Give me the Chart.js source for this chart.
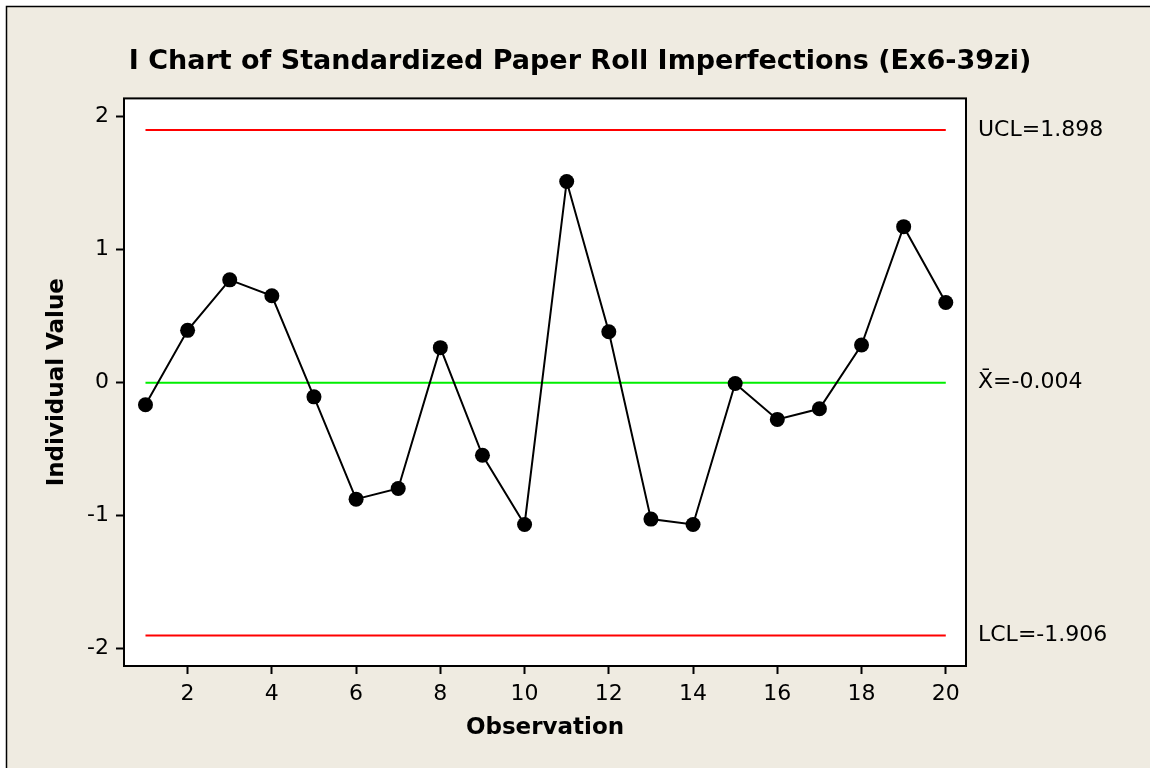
<!DOCTYPE html>
<html>
<head>
<meta charset="utf-8">
<title>I Chart of Standardized Paper Roll Imperfections</title>
<script src="https://cdn.jsdelivr.net/npm/chart.js@4/dist/chart.umd.min.js"></script>
<style>
  html, body { margin: 0; padding: 0; background: #ffffff; }
  canvas { display: block; }
</style>
</head>
<body>
<canvas id="ichart" width="1150" height="768"></canvas>
<script>
// Observation numbers and the standardized individual values
const observations = [1, 2, 3, 4, 5, 6, 7, 8, 9, 10, 11, 12, 13, 14, 15, 16, 17, 18, 19, 20];
const individualValues = [-0.17, 0.39, 0.77, 0.65, -0.11, -0.88, -0.80, 0.26, -0.55, -1.07,
                          1.51, 0.38, -1.03, -1.07, -0.01, -0.28, -0.20, 0.28, 1.17, 0.60];

// Control limits and centre line
const ucl = 1.898;
const centerLine = -0.004;
const lcl = -1.906;

// Axis tick labels
const xTicks = [2, 4, 6, 8, 10, 12, 14, 16, 18, 20];
const yTicks = [-2, -1, 0, 1, 2];

const limitLabels = [
  { value: ucl, text: 'UCL=' + ucl.toFixed(3) },
  { value: centerLine, text: 'X\u0304=' + centerLine.toFixed(3) },
  { value: lcl, text: 'LCL=' + lcl.toFixed(3) }
];

const BODY_FONT = "'DejaVu Sans', Verdana, sans-serif";
const BEIGE = '#efebe1';

const points = observations.map((o, i) => ({ x: o, y: individualValues[i] }));
const hLine = v => [{ x: observations[0], y: v }, { x: observations[observations.length - 1], y: v }];

// Page frame and white plotting panel with a black outline
const framePlugin = {
  id: 'frame',
  beforeDraw(chart) {
    const { ctx, width, height, chartArea: a } = chart;
    ctx.save();
    ctx.fillStyle = '#ffffff';
    ctx.fillRect(0, 0, width, height);
    ctx.fillStyle = BEIGE;
    ctx.fillRect(7, 7, width - 7, height - 7);
    ctx.strokeStyle = '#000000';
    ctx.lineWidth = 1.5;
    ctx.beginPath();
    ctx.moveTo(6.5, height);
    ctx.lineTo(6.5, 6.5);
    ctx.lineTo(width, 6.5);
    ctx.stroke();
    ctx.fillStyle = '#ffffff';
    ctx.fillRect(a.left, a.top, a.right - a.left, a.bottom - a.top);
    ctx.restore();
  },
  afterDraw(chart) {
    const { ctx, chartArea: a } = chart;
    ctx.save();
    ctx.strokeStyle = '#000000';
    ctx.lineWidth = 2;
    ctx.strokeRect(a.left, a.top, a.right - a.left, a.bottom - a.top);
    ctx.restore();
  }
};

const Y_MIN = -2.135, Y_MAX = 2.135;

new Chart(document.getElementById('ichart'), {
  type: 'scatter',
  data: {
    datasets: [
      {
        label: 'Individual Value',
        data: points,
        showLine: true,
        borderColor: '#000000',
        borderWidth: 2,
        backgroundColor: '#000000',
        pointRadius: 7.5,
        pointBorderWidth: 0,
        pointBackgroundColor: '#000000',
        order: 0
      },
      {
        label: 'UCL',
        data: hLine(ucl),
        showLine: true,
        borderColor: '#ff0000',
        borderWidth: 2,
        pointRadius: 0,
        order: 1
      },
      {
        label: 'Mean',
        data: hLine(centerLine),
        showLine: true,
        borderColor: '#00ee00',
        borderWidth: 2,
        pointRadius: 0,
        order: 1
      },
      {
        label: 'LCL',
        data: hLine(lcl),
        showLine: true,
        borderColor: '#ff0000',
        borderWidth: 2,
        pointRadius: 0,
        order: 1
      }
    ]
  },
  options: {
    responsive: false,
    animation: false,
    events: [],
    layout: { padding: { left: 10, right: 0, top: 0, bottom: 0 } },
    plugins: {
      legend: { display: false },
      tooltip: { enabled: false },
      title: {
        display: true,
        text: 'I Chart of Standardized Paper Roll Imperfections (Ex6-39zi)',
        color: '#000000',
        font: { family: BODY_FONT, size: 27, weight: 'bold', lineHeight: 1.2 },
        padding: { top: 46, bottom: 20 }
      }
    },
    scales: {
      x: {
        type: 'linear',
        position: 'bottom',
        min: 0.49,
        max: 20.48,
        afterBuildTicks: s => { s.ticks = xTicks.map(v => ({ value: v })); },
        afterFit: s => { s.height = 102; },
        border: { display: false },
        grid: {
          drawOnChartArea: false,
          drawTicks: true,
          tickLength: 8,
          tickWidth: 2,
          tickColor: '#000000',
          color: '#000000'
        },
        ticks: {
          color: '#000000',
          padding: 7,
          maxRotation: 0,
          autoSkip: false,
          font: { family: BODY_FONT, size: 22 },
          callback: v => String(v)
        },
        title: {
          display: true,
          text: 'Observation',
          color: '#000000',
          font: { family: BODY_FONT, size: 23, weight: 'bold', lineHeight: 1.2 },
          padding: { top: 0, bottom: 26 }
        }
      },
      y: {
        type: 'linear',
        position: 'left',
        min: Y_MIN,
        max: Y_MAX,
        afterBuildTicks: s => { s.ticks = yTicks.map(v => ({ value: v })); },
        afterFit: s => { s.width = 114; },
        border: { display: false },
        grid: {
          drawOnChartArea: false,
          drawTicks: true,
          tickLength: 8,
          tickWidth: 2,
          tickColor: '#000000',
          color: '#000000'
        },
        ticks: {
          color: '#000000',
          padding: 7,
          autoSkip: false,
          font: { family: BODY_FONT, size: 22 },
          callback: v => String(v)
        },
        title: {
          display: true,
          text: 'Individual Value',
          color: '#000000',
          font: { family: BODY_FONT, size: 23, weight: 'bold', lineHeight: 1.2 },
          padding: { top: 33, bottom: 0 }
        }
      },
      limits: {
        type: 'linear',
        position: 'right',
        min: Y_MIN,
        max: Y_MAX,
        afterBuildTicks: s => { s.ticks = limitLabels.map(l => ({ value: l.value })); },
        afterFit: s => { s.width = 184; },
        border: { display: false },
        grid: { display: false, drawTicks: false },
        ticks: {
          color: '#000000',
          padding: 12,
          autoSkip: false,
          font: { family: BODY_FONT, size: 22 },
          callback: (v, i) => limitLabels[i].text
        }
      }
    }
  },
  plugins: [framePlugin]
});
</script>
</body>
</html>
